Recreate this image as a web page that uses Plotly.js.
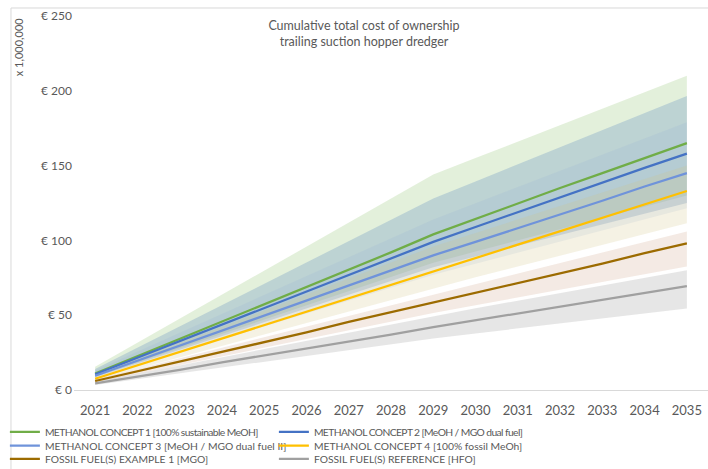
<!DOCTYPE html>
<html>
<head>
<meta charset="utf-8">
<script src="https://cdn.plot.ly/plotly-3.0.1.min.js"></script>
<style>html,body{margin:0;padding:0;background:#fff;}#chart{width:708px;height:469px;}
#chart .legendtext{letter-spacing:-0.6px;}</style>
</head>
<body>
<div id="chart"></div>
<script>
var years = ['2021','2022','2023','2024','2025','2026','2027','2028','2029','2030','2031','2032','2033','2034','2035'];

var names = [
  'METHANOL CONCEPT 1 [100% sustainable MeOH]',
  'METHANOL CONCEPT 2 [MeOH / MGO dual fuel]',
  'METHANOL CONCEPT 3 [MeOH / MGO dual fuel II]',
  'METHANOL CONCEPT 4 [100% fossil MeOh]',
  'FOSSIL FUEL(S) EXAMPLE 1 [MGO]',
  'FOSSIL FUEL(S) REFERENCE [HFO]'
];

// central values (million EUR)
var concept1 = [11, 22.5, 34, 45.5, 57, 69, 80.5, 92, 104, 114.5, 124.5, 135, 145, 155, 165];
var concept2 = [10.5, 21.5, 32.5, 43.5, 54.5, 65.5, 76.5, 87.5, 99, 109, 119, 129, 139, 148.5, 158];
var concept3 = [9.5, 19.5, 29.5, 39.5, 49.5, 59.5, 70, 80, 90, 99, 108, 117.5, 126.5, 136, 145];
var concept4 = [7.5, 16.5, 25.5, 34.5, 43.5, 52.5, 61.5, 70, 79, 88, 97, 106, 115, 124, 133];
var fossil1  = [6, 12.5, 19, 25.5, 32, 38.5, 45.5, 52, 58.5, 65, 71.5, 78, 84.5, 91.5, 98];
var fossilRef = [4.5, 9, 13.5, 18.5, 23, 27.5, 32.5, 37, 42, 46.5, 51, 55.5, 60.5, 65, 69.5];

// uncertainty bands (upper / lower)
var concept1Up = [15.5, 31.5, 47.6, 63.7, 79.8, 95.8, 111.9, 128, 144, 155, 166, 177, 188, 199, 210];
var concept1Lo = [9, 18.5, 28, 37.5, 47, 56.5, 66, 75.5, 85, 92.5, 100, 107.5, 115, 122.5, 130];
var concept2Up = [14, 28.3, 42.5, 56.8, 71, 85.3, 99.5, 113.8, 128, 139.4, 150.8, 162.3, 173.7, 185.1, 196.5];
var concept2Lo = [8.5, 17.7, 26.9, 36.1, 45.3, 54.4, 63.6, 72.8, 82, 89.2, 96.3, 103.5, 110.7, 117.8, 125];
var concept3Up = [13, 25.6, 38.3, 50.9, 63.5, 76.1, 88.8, 101.4, 114, 124.8, 135.7, 146.5, 157.3, 168.2, 179];
var concept3Lo = [8, 16.6, 25.3, 33.9, 42.5, 51.1, 59.8, 68.4, 77, 84.4, 91.8, 99.3, 106.7, 114.1, 121.5];
var concept4Up = [10, 20.8, 31.5, 42.3, 53, 63.8, 74.5, 85.3, 96, 105, 114, 123, 132, 141, 150];
var concept4Lo = [6.5, 14.2, 21.9, 29.6, 37.3, 44.9, 52.6, 60.3, 68, 75.3, 82.5, 89.8, 97, 104.3, 111.5];
var fossil1Up = [7, 14.1, 21.3, 28.4, 35.5, 42.6, 49.8, 56.9, 64, 71, 78, 85, 92, 99, 106];
var fossil1Lo = [5, 10.8, 16.6, 22.4, 28.3, 34.1, 39.9, 45.7, 51.5, 56.7, 61.8, 67, 72.2, 77.3, 82.5];
var fossilRefUp = [5.5, 11, 16.5, 22, 27.5, 33, 38.5, 44, 49.5, 54.6, 59.7, 64.8, 69.8, 74.9, 80];
var fossilRefLo = [3.3, 7.2, 11.1, 15, 18.9, 22.8, 26.7, 30.6, 34.5, 37.8, 41.2, 44.5, 47.8, 51.2, 54.5];

var lineColors = ['#70ad47', '#4472c4', '#6f93da', '#ffc000', '#9c6b00', '#a0a0a0'];
var bandColors = ['rgba(169,209,142,0.32)', 'rgba(110,150,195,0.32)', 'rgba(140,170,215,0.15)',
                  'rgba(210,195,130,0.22)', 'rgba(200,150,120,0.2)', 'rgba(150,150,150,0.24)'];

var centers = [concept1, concept2, concept3, concept4, fossil1, fossilRef];
var uppers = [concept1Up, concept2Up, concept3Up, concept4Up, fossil1Up, fossilRefUp];
var lowers = [concept1Lo, concept2Lo, concept3Lo, concept4Lo, fossil1Lo, fossilRefLo];

var traces = [];
for (var i = 0; i < centers.length; i++) {
  traces.push({x: years, y: lowers[i], type: 'scatter', mode: 'lines', line: {width: 0}, hoverinfo: 'skip', showlegend: false});
  traces.push({x: years, y: uppers[i], type: 'scatter', mode: 'lines', line: {width: 0}, fill: 'tonexty', fillcolor: bandColors[i], hoverinfo: 'skip', showlegend: false});
}
var legendIds = ['legend', 'legend', 'legend2', 'legend2', 'legend3', 'legend3'];
for (var j = 0; j < centers.length; j++) {
  traces.push({x: years, y: centers[j], type: 'scatter', mode: 'lines', name: names[j],
    line: {color: lineColors[j], width: 2.25}, legend: legendIds[j]});
}

var txt = '#595959';
var fontFam = 'Lato, "Liberation Sans", sans-serif';
function leg(y) {
  return {orientation: 'h', x: -0.109, xanchor: 'left', y: y, yanchor: 'middle',
    entrywidth: 224, entrywidthmode: 'pixels', font: {family: fontFam, size: 10.3, color: txt},
    bgcolor: 'rgba(0,0,0,0)', itemwidth: 30, traceorder: 'normal'};
}

var layout = {
  width: 708, height: 469,
  margin: {l: 74, r: 0, t: 16, b: 79, autoexpand: false},
  paper_bgcolor: '#ffffff', plot_bgcolor: '#ffffff',
  font: {family: fontFam, color: txt, size: 12},
  title: {text: 'Cumulative total cost of ownership<br>trailing suction hopper dredger',
    x: 364/708, xanchor: 'center', y: 1 - 30/469, yanchor: 'middle',
    font: {family: fontFam, size: 12.5, color: txt}},
  xaxis: {type: 'category', range: [-0.5, 14.5], showgrid: false, zeroline: false,
    showline: true, linecolor: '#d9d9d9', linewidth: 1, ticks: '', ticklabelstandoff: 8,
    tickfont: {family: fontFam, size: 13, color: txt}, fixedrange: true},
  yaxis: {range: [0, 250], dtick: 50, tickprefix: '€ ', showgrid: false, zeroline: false,
    showline: false, ticks: '', ticklabelstandoff: 1,
    tickfont: {family: fontFam, size: 12, color: txt}, fixedrange: true},
  legend: leg(-0.112),
  legend2: leg(-0.149),
  legend3: leg(-0.184),
  shapes: [{type: 'rect', xref: 'paper', yref: 'paper', x0: -0.0994, x1: 1.1, y0: -1, y1: 1.0214,
    line: {color: '#d9d9d9', width: 1}, fillcolor: 'rgba(0,0,0,0)', layer: 'below'}],
  annotations: [{text: 'x 1,000,000', xref: 'paper', yref: 'paper', x: -0.087, y: 1.003,
    xanchor: 'center', yanchor: 'top', textangle: -90, showarrow: false,
    font: {family: fontFam, size: 11, color: txt}}]
};

Plotly.newPlot('chart', traces, layout, {displayModeBar: false, staticPlot: true});
</script>
</body>
</html>
